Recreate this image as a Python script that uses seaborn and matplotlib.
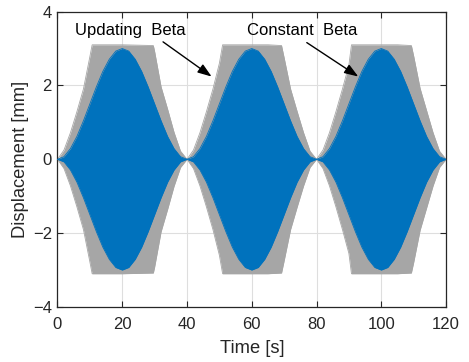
import numpy as np
import pandas as pd
import matplotlib
matplotlib.use("Agg")
import matplotlib.pyplot as plt
import seaborn as sns

# ---- data (envelopes of the displacement responses) ----
# Updating Beta (grey) envelope
t_updating = [0, 2, 4, 6, 8, 10, 10.7, 15, 20, 25, 29.6, 30, 32, 34, 36, 38,
              40, 42, 44, 46, 48, 50, 51, 55, 60, 65, 69.2, 70, 72, 74, 76, 78,
              80, 82, 84, 86, 88, 90, 90.8, 95, 100, 105, 109.3, 110, 112, 114, 116, 118, 120]
amp_updating = [0, 0.25, 0.72, 1.29, 1.90, 2.78, 3.10, 3.10, 3.10, 3.09, 3.08, 2.92, 1.96, 1.36, 0.73, 0.22,
                0, 0.25, 0.72, 1.29, 1.90, 2.60, 3.10, 3.10, 3.10, 3.10, 3.08, 2.75, 1.90, 1.30, 0.72, 0.22,
                0, 0.25, 0.72, 1.29, 1.90, 2.55, 3.10, 3.10, 3.10, 3.10, 3.08, 2.80, 1.92, 1.32, 0.72, 0.22, 0]

# Constant Beta (blue) envelope
t_constant = list(range(0, 121, 2))
amp_constant = [0, 0.07, 0.29, 0.62, 1.04, 1.50, 1.96, 2.38, 2.71, 2.93,
                3.00, 2.93, 2.71, 2.38, 1.96, 1.50, 1.04, 0.62, 0.29, 0.07,
                0, 0.07, 0.29, 0.62, 1.04, 1.50, 1.96, 2.38, 2.71, 2.93,
                3.00, 2.93, 2.71, 2.38, 1.96, 1.50, 1.04, 0.62, 0.29, 0.07,
                0, 0.07, 0.29, 0.62, 1.04, 1.50, 1.96, 2.38, 2.71, 2.93,
                3.00, 2.93, 2.71, 2.38, 1.96, 1.50, 1.04, 0.62, 0.29, 0.07, 0]

x_ticks = [0, 20, 40, 60, 80, 100, 120]
y_ticks = [-4, -2, 0, 2, 4]
label_updating = "Updating  Beta"
label_constant = "Constant  Beta"

# ---- style ----
sns.set_theme(style="whitegrid")
plt.rcParams['font.family'] = ['Liberation Sans', 'DejaVu Sans']

grey = "#a6a6a6"
blue = "#0072bd"
dark = "#262626"

fig = plt.figure(figsize=(4.69, 3.62), dpi=100)
ax = fig.add_axes([0.1226, 0.152, 0.951 - 0.1226, 0.968 - 0.152])

df_u = pd.DataFrame({"t": t_updating, "a": amp_updating})
df_c = pd.DataFrame({"t": t_constant, "a": amp_constant})

ax.fill_between(df_u["t"], -df_u["a"], df_u["a"], color=grey, lw=0, zorder=2)
sns.lineplot(x=df_u["t"], y=df_u["a"], ax=ax, color=grey, lw=0.6, zorder=2)
sns.lineplot(x=df_u["t"], y=-df_u["a"], ax=ax, color=grey, lw=0.6, zorder=2)
ax.fill_between(df_c["t"], -df_c["a"], df_c["a"], color=blue, lw=0, zorder=3)
sns.lineplot(x=df_c["t"], y=df_c["a"], ax=ax, color=blue, lw=0.6, zorder=3)
sns.lineplot(x=df_c["t"], y=-df_c["a"], ax=ax, color=blue, lw=0.6, zorder=3)

ax.set_xlim(0, 120)
ax.set_ylim(-4, 4)
ax.set_xticks(x_ticks)
ax.set_yticks(y_ticks)
ax.set_facecolor("white")
ax.set_axisbelow(True)
ax.grid(True, color="#dedede", lw=0.8)
for s in ax.spines.values():
    s.set_visible(True)
    s.set_color(dark)
    s.set_linewidth(0.9)
ax.tick_params(direction="in", length=4, width=0.8, colors=dark, labelsize=12,
               top=True, right=True, bottom=True, left=True)
ax.tick_params(axis="x", pad=7)
ax.tick_params(axis="y", pad=4)

ax.set_xlabel("Time [s]", fontsize=13.2, color=dark, labelpad=6)
ax.set_ylabel("Displacement [mm]", fontsize=13.2, color=dark, labelpad=3)

arrow_kw = dict(arrowstyle="-|>,head_length=0.7,head_width=0.25", color="black", lw=1.0,
                shrinkA=0, shrinkB=0)
ax.annotate("", xy=(47.6, 2.24), xytext=(32.6, 3.18), arrowprops=arrow_kw, zorder=5)
ax.annotate("", xy=(92.9, 2.24), xytext=(77.0, 3.16), arrowprops=arrow_kw, zorder=5)
ax.text(5.4, 3.50, label_updating, fontsize=12, color="black", va="center", ha="left", zorder=5)
ax.text(58.4, 3.50, label_constant, fontsize=12, color="black", va="center", ha="left", zorder=5)

fig.savefig("out.png", dpi=100)
